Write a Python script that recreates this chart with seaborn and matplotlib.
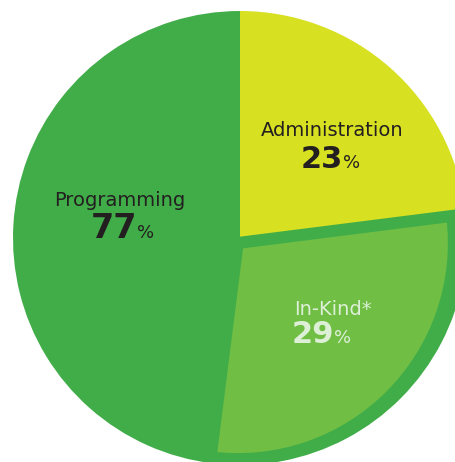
import matplotlib
matplotlib.use("Agg")
import matplotlib.pyplot as plt
import seaborn as sns

# ---- data ----
categories = ["Administration", "Programming"]
shares = [23, 77]
inkind_label = "In-Kind*"
inkind_share = 29
colors = ["#D7E021", "#41AD49"]
inkind_color = "#70BF44"

sns.set_style("white")
plt.rcParams["font.family"] = ["DejaVu Sans"]

W, H = 456, 462
fig = plt.figure(figsize=(W / 100, H / 100), dpi=100)
ax = fig.add_axes([0, 0, 1, 1])

# main pie
ax.pie(shares, colors=colors, startangle=90, counterclock=False,
       radius=1.0, wedgeprops=dict(linewidth=0))

# in-kind overlay wedge (part of programming), drawn inset with a green rim
rest = 100 - shares[0] - inkind_share
wedges, _ = ax.pie([shares[0], inkind_share, rest], startangle=90,
                   counterclock=False, radius=0.952, center=(-0.01, -0.022),
                   colors=["none", inkind_color, "none"],
                   wedgeprops=dict(linewidth=0))
wedges[1].set_edgecolor(colors[1])
wedges[1].set_linewidth(8.6)
wedges[1].set_joinstyle("miter")

ax.set_aspect("auto")
ax.set_xlim(-240 / 227, (W - 240) / 227)
ax.set_ylim((238 - H) / 227, 238 / 227)
ax.axis("off")


def P(px, py):
    return px / W, 1 - py / H


dark = "#231F20"
light = "#DDEFD6"

def label(name, cx, by, num_right, nby, pct, col, numsize):
    ax.text(*P(cx, by), name, transform=ax.transAxes, ha="center",
            va="baseline", fontsize=14, color=col)
    ax.text(*P(num_right, nby), f"{pct}", transform=ax.transAxes,
            ha="right", va="baseline", fontsize=numsize,
            fontweight="bold", color=col)
    ax.text(*P(num_right, nby), "%", transform=ax.transAxes,
            ha="left", va="baseline", fontsize=13, color=col)

label(categories[0], 332, 136, 343, 168, shares[0], dark, 22)
label(categories[1], 120, 206, 137, 238, shares[1], dark, 24)
label(inkind_label, 332.5, 315, 334, 343, inkind_share, light, 22)

fig.savefig("out.png", dpi=100)
